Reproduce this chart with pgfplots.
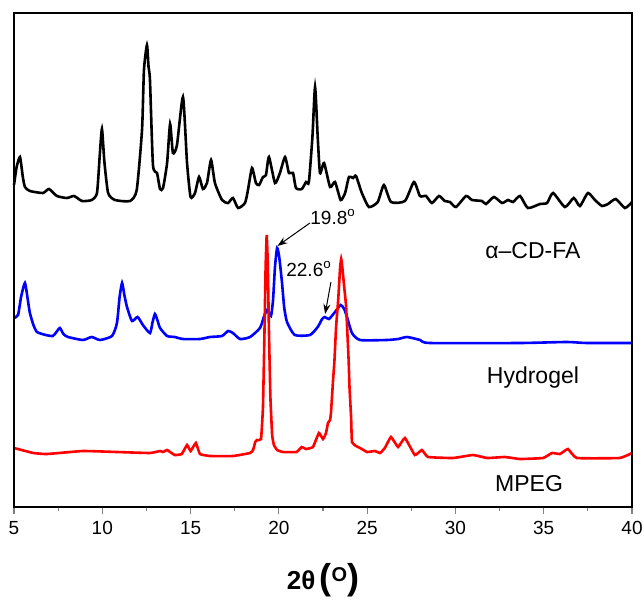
\documentclass[border=0pt]{standalone}
\usepackage{fontspec}
\setmainfont{Liberation Sans}
\usepackage{pgfplots}
\pgfplotsset{compat=1.18}
\usetikzlibrary{calc,arrows.meta}

\begin{document}
\begin{tikzpicture}
\begin{axis}[
  scale only axis, width=309pt, height=247pt,
  xmin=5, xmax=40, ymin=0, ymax=494,
  xtick={5,10,...,40}, minor x tick num=1,
  xtick pos=left, xtick align=outside,
  ytick=\empty, minor ytick={11.5,23,...,490},
  ytick align=inside, ytick pos=both,
  major tick length=3.5pt, minor tick length=2pt,
  minor y tick style={gray, line width=0.4pt},
  ticklabel style={font=\fontsize{9.5}{11}\selectfont},
  /pgf/number format/assume math mode=true,
  axis line style={line width=0.75pt},
  every tick/.append style={line width=0.6pt},
  every axis plot/.append style={line width=1.3pt, smooth, tension=0.35},
  clip=false,
]
\coordinate (bl) at (rel axis cs:0,0);
\coordinate (tr) at (rel axis cs:1,1);

% alpha-CD-FA
\addplot[black] coordinates {
(5.00,322)(5.15,340)(5.34,350)(5.50,330)(5.62,320)(5.90,316)(6.64,314)(6.98,318)(7.43,311)(8.00,309)
(8.40,311)(8.85,306)(9.40,307)(9.70,314)(9.85,350)(9.98,378)(10.12,345)(10.33,314)(10.72,307)(11.57,306)
(11.95,317)(12.25,377)(12.36,437)(12.53,462)(12.62,440)(12.70,427)(12.87,342)(13.10,334)(13.27,318)(13.44,319)
(13.67,344)(13.84,383)(14.00,354)(14.23,362)(14.57,410)(14.80,344)(15.00,310)(15.25,314)(15.48,330)(15.70,318)
(15.93,324)(16.16,347)(16.38,324)(16.78,307)(17.12,304)(17.40,309)(17.69,299)(18.08,304)(18.25,317)(18.48,339)
(18.70,324)(18.88,322)(19.10,330)(19.27,332)(19.44,350)(19.78,324)(20.06,334)(20.35,350)(20.57,334)(20.80,334)
(20.97,319)(21.30,318)(21.54,325)(21.70,325)(21.90,370)(22.05,420)(22.20,370)(22.33,334)(22.56,344)(22.90,320)
(23.18,325)(23.50,307)(23.75,314)(23.97,330)(24.20,329)(24.37,331)(24.70,314)(25.10,300)(25.60,305)(25.95,322)
(26.35,305)(27.14,306)(27.65,325)(27.99,311)(28.33,311)(28.67,304)(29.07,311)(29.40,306)(29.69,305)(30.03,300)
(30.60,311)(30.94,307)(31.50,306)(31.73,303)(32.18,310)(32.64,304)(32.98,307)(33.26,305)(33.66,311)(34.10,299)
(34.79,303)(35.19,304)(35.53,314)(36.20,300)(36.70,309)(37.05,301)(37.50,314)(37.90,307)(38.30,301)(38.64,303)
(39.08,308)(39.60,299)(40.00,305)};

% Hydrogel
\addplot[blue] coordinates {
(5.00,189)(5.23,192)(5.40,210)(5.62,224)(5.80,205)(5.90,194)(6.10,182)(6.30,175)(6.80,172)(7.20,171)
(7.40,175)(7.60,179)(7.80,173)(8.06,170)(8.90,167)(9.40,170)(9.87,167)(10.55,171)(10.83,184)(10.98,210)
(11.12,224)(11.25,212)(11.40,200)(11.68,186)(12.00,190)(12.30,182)(12.70,174)(12.85,185)(12.98,193)(13.12,187)
(13.27,179)(13.67,171)(14.10,170)(14.57,168)(15.53,168)(16.10,170)(16.78,171)(17.12,176)(17.40,174)(17.80,168)
(18.37,170)(18.93,179)(19.15,190)(19.33,197)(19.55,191)(19.67,207)(19.78,240)(19.90,259)(20.02,250)(20.18,224)
(20.30,200)(20.46,185)(20.90,172)(21.76,172)(22.20,180)(22.45,188)(22.60,190)(22.84,188)(23.18,195)(23.50,202)
(23.70,198)(23.86,190)(24.14,174)(24.60,167)(26.10,167)(26.75,168)(27.26,170)(28.00,167)(28.56,164)(33.66,164)
(36.30,165)(37.45,164)(40.00,164)};

% MPEG
\addplot[red, tension=0.2] coordinates {
(5.00,59)(6.10,54)(6.87,53)(8.90,56)(10.83,55)(12.70,54)(13.27,56)(13.44,55)(13.67,57)(14.10,52)
(14.50,53)(14.80,62)(15.00,56)(15.30,64)(15.53,53)(16.10,51)(17.40,51)(18.37,54)(18.54,57)(18.66,65)
(18.76,67)(18.99,68)(19.10,100)(19.18,170)(19.25,240)(19.31,272)(19.37,245)(19.44,175)(19.52,110)(19.62,72)
(19.72,62)(19.90,57)(20.23,55)(21.00,55)(21.30,60)(21.54,58)(21.93,60)(22.27,74)(22.50,68)(22.67,74)
(22.78,84)(22.90,87)(22.95,94)(23.07,127)(23.15,147)(23.24,180)(23.36,207)(23.47,240)(23.53,248)(23.58,242)
(23.70,220)(23.81,200)(23.95,147)(24.00,120)(24.09,90)(24.14,65)(24.37,61)(24.60,59)(25.00,55)(25.44,56)
(25.73,54)(26.00,59)(26.35,70)(26.75,60)(27.14,69)(27.70,52)(28.10,57)(28.45,50)(29.86,49)(31.00,52)
(31.80,49)(32.80,50)(33.66,48)(34.96,49)(35.47,54)(35.92,53)(36.37,58)(36.88,49)(39.30,49)(40.00,54)};

\node[font=\fontsize{11.5}{13}\selectfont] at (axis cs:34.39,256) {α–CD-FA};
\node[font=\fontsize{11.5}{13}\selectfont] at (axis cs:34.39,129) {Hydrogel};
\node[font=\fontsize{11.5}{13}\selectfont] at (axis cs:34.17,23) {MPEG};

\node[font=\fontsize{9.5}{11}\selectfont] at (axis cs:23.07,290) {19.8\textsuperscript{o}};
\node[font=\fontsize{9.5}{11}\selectfont] at (axis cs:21.71,238) {22.6\textsuperscript{o}};
\draw[-{Stealth[length=5pt,width=3.5pt]}, line width=0.5pt] (axis cs:21.76,284) -- (axis cs:19.92,261);
\draw[-{Stealth[length=5pt,width=3.5pt]}, line width=0.5pt] (axis cs:22.95,225) -- (axis cs:22.62,193);

\draw[line width=0.75pt] (rel axis cs:0,0) rectangle (rel axis cs:1,1);

\node at (rel axis cs:0.5,-0.148) {{\fontsize{13}{13}\selectfont\bfseries 2θ\,}{\fontsize{18}{18}\selectfont\bfseries (\raisebox{4pt}{\fontsize{10}{10}\selectfont\bfseries O})}};
\end{axis}
\pgfresetboundingbox
\path[use as bounding box] ($(bl)+(-7pt,-46pt)$) rectangle ($(tr)+(6pt,6.5pt)$);
\end{tikzpicture}
\end{document}
